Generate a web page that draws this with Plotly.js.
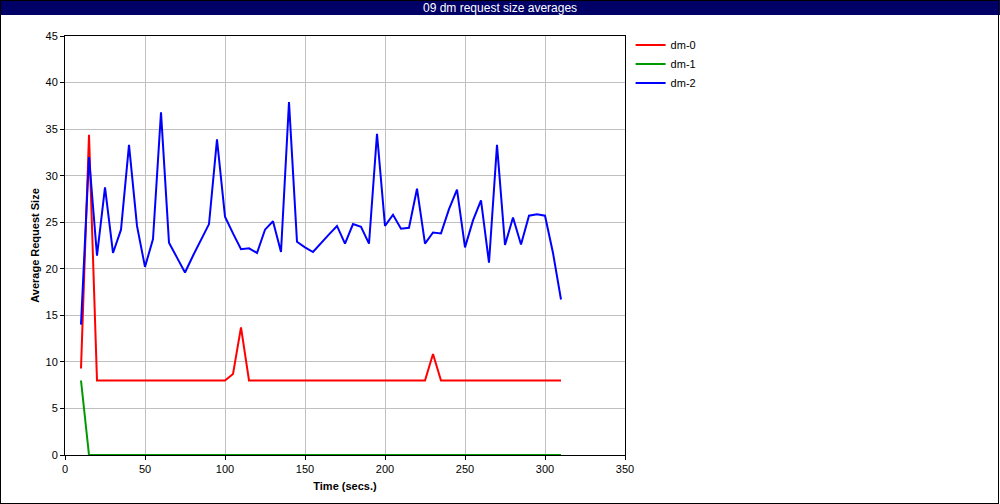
<!DOCTYPE html>
<html>
<head>
<meta charset="utf-8">
<script src="https://cdn.plot.ly/plotly-3.0.1.min.js"></script>
<style>
html,body{margin:0;padding:0;background:#fff;}
#chart{width:1000px;height:504px;}
</style>
</head>
<body>
<div id="chart"></div>
<script>
const chartTitle = "09 dm request size averages";
const xTitle = "Time (secs.)";
const yTitle = "Average Request Size";
const seriesNames = ["dm-0", "dm-1", "dm-2"];
const seriesColors = ["#ff0000", "#009900", "#0000ff"];

const time = [10,15,20,25,30,35,40,45,50,55,60,65,70,75,80,85,90,95,100,105,110,115,120,125,130,135,140,145,150,155,160,165,170,175,180,185,190,195,200,205,210,215,220,225,230,235,240,245,250,255,260,265,270,275,280,285,290,295,300,305,310];

const dm0 = [9.3,34.4,8,8,8,8,8,8,8,8,8,8,8,8,8,8,8,8,8,8.7,13.7,8,8,8,8,8,8,8,8,8,8,8,8,8,8,8,8,8,8,8,8,8,8,8,10.85,8,8,8,8,8,8,8,8,8,8,8,8,8,8,8,8];
const dm1 = [8,0,0,0,0,0,0,0,0,0,0,0,0,0,0,0,0,0,0,0,0,0,0,0,0,0,0,0,0,0,0,0,0,0,0,0,0,0,0,0,0,0,0,0,0,0,0,0,0,0,0,0,0,0,0,0,0,0,0,0,0];
const dm2 = [14.0,32.0,21.4,28.75,21.7,24.2,33.3,24.6,20.2,23.2,36.8,22.8,21.2,19.6,21.4,23.1,24.8,33.9,25.6,23.8,22.1,22.2,21.7,24.2,25.1,21.8,37.9,22.9,22.3,21.8,22.8,23.7,24.6,22.7,24.8,24.5,22.7,34.5,24.6,25.8,24.3,24.4,28.6,22.7,23.9,23.8,26.4,28.5,22.3,25.2,27.35,20.65,33.3,22.55,25.5,22.6,25.7,25.85,25.7,21.7,16.7];

const xTicks = [0,50,100,150,200,250,300,350];
const yTicks = [0,5,10,15,20,25,30,35,40,45];

const seriesData = [dm0, dm1, dm2];
const traces = seriesData.map((vals, i) => ({
  x: time, y: vals, type: "scatter", mode: "lines", name: seriesNames[i],
  line: {color: seriesColors[i], width: 2}
}));

const font = "Liberation Sans, Arial, sans-serif";

const layout = {
  width: 1000, height: 504,
  margin: {l: 65, r: 375, t: 36, b: 49},
  paper_bgcolor: "#ffffff", plot_bgcolor: "#ffffff",
  font: {family: font, size: 11, color: "#000"},
  showlegend: true,
  legend: {x: 1.01, y: 1.013, xanchor: "left", yanchor: "top", bgcolor: "rgba(0,0,0,0)",
           font: {family: font, size: 11, color: "#000"}, tracegroupgap: 0, itemwidth: 30},
  xaxis: {
    range: [0, 350], tickvals: xTicks, ticktext: xTicks.map(String),
    showgrid: true, gridcolor: "#c0c0c0", gridwidth: 1,
    showline: true, linecolor: "#000", linewidth: 1, mirror: true,
    ticks: "outside", ticklen: 4, tickcolor: "#000", zeroline: false,
    tickfont: {family: font, size: 11},
    title: {text: "<b>" + xTitle + "</b>", font: {family: font, size: 11}, standoff: 8}
  },
  yaxis: {
    range: [0, 45], tickvals: yTicks, ticktext: yTicks.map(String),
    showgrid: true, gridcolor: "#c0c0c0", gridwidth: 1,
    showline: true, linecolor: "#000", linewidth: 1, mirror: true,
    ticks: "outside", ticklen: 4, tickcolor: "#000", zeroline: false,
    tickfont: {family: font, size: 11},
    title: {text: "<b>" + yTitle + "</b>", font: {family: font, size: 11}, standoff: 3}
  },
  shapes: [
    {type: "rect", xref: "paper", yref: "paper", x0: -0.116, x1: 1.6696, y0: 1.0501, y1: 1.09,
     fillcolor: "#000066", line: {width: 0}, layer: "above"}
  ],
  annotations: [
    {text: chartTitle, xref: "paper", yref: "paper", x: 0.7768, y: 1.068, xanchor: "center", yanchor: "middle",
     showarrow: false, font: {family: font, size: 12, color: "#ffffff"}}
  ]
};

Plotly.newPlot("chart", traces, layout, {staticPlot: true, displayModeBar: false}).then(() => {
  const svgs = document.querySelectorAll("#chart svg.main-svg");
  const target = svgs[svgs.length - 1];
  const ns = "http://www.w3.org/2000/svg";
  const r = document.createElementNS(ns, "rect");
  r.setAttribute("x", "0.5"); r.setAttribute("y", "0.5");
  r.setAttribute("width", "998"); r.setAttribute("height", "503");
  r.setAttribute("fill", "none"); r.setAttribute("stroke", "#000"); r.setAttribute("stroke-width", "1");
  target.appendChild(r);
});
</script>
</body>
</html>
